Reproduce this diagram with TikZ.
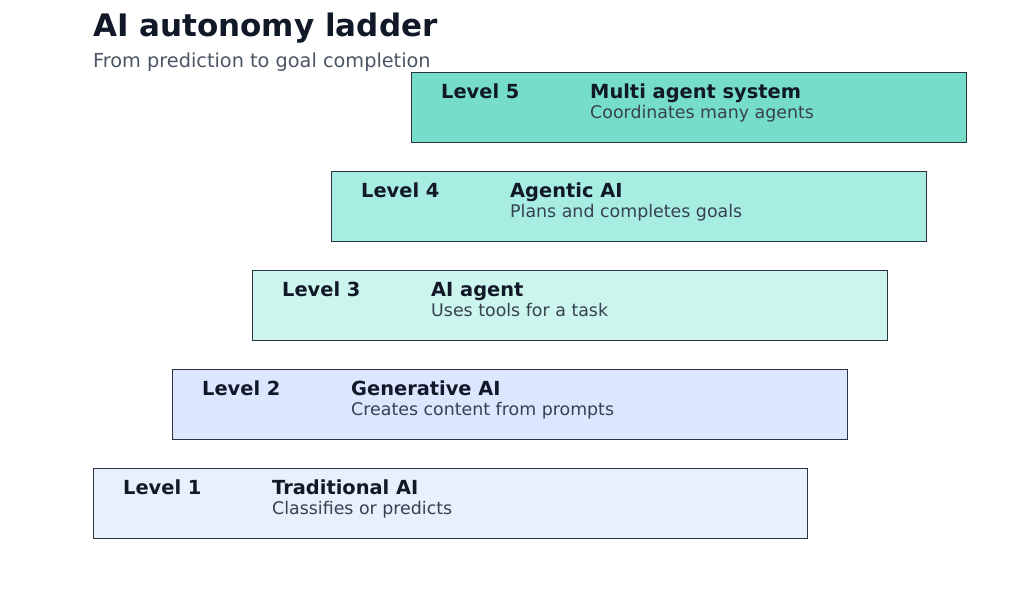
\documentclass[tikz,border=0pt]{standalone}
\usepackage{fontspec}
\setmainfont{DejaVu Sans}
\usepackage{tikz}
\usetikzlibrary{positioning}

\definecolor{ink}{HTML}{111827}
\definecolor{subink}{HTML}{4B5563}
\definecolor{descink}{HTML}{374151}
\definecolor{edge}{HTML}{2B3440}
\definecolor{fillA}{HTML}{E8EFFD}
\definecolor{fillB}{HTML}{DCE6FE}
\definecolor{fillC}{HTML}{CCF5ED}
\definecolor{fillD}{HTML}{A7EDE2}
\definecolor{fillE}{HTML}{76DDCA}

\begin{document}
\begin{tikzpicture}[
  x=1pt, y=-1pt,
  rung/.style={rectangle,draw=edge,line width=1pt,anchor=north west,minimum height=70pt,inner sep=0pt},
  lvl/.style={anchor=base west,inner sep=0pt,font=\fontsize{19.4}{22}\selectfont\bfseries,text=ink},
  kind/.style={anchor=base west,inner sep=0pt,font=\fontsize{19.4}{22}\selectfont\bfseries,text=ink},
  desc/.style={anchor=base west,inner sep=0pt,font=\fontsize{17.4}{20}\selectfont,text=descink}
]
  \useasboundingbox (0,0) rectangle (1020,610);

  \node[anchor=base west,inner sep=0pt,font=\fontsize{31}{36}\selectfont\bfseries,text=ink] (title) at (93,37) {AI autonomy ladder};
  \node[anchor=base west,inner sep=0pt,font=\fontsize{19.3}{23}\selectfont,text=subink] (subtitle) at (93,67) {From prediction to goal completion};

  % rungs, bottom to top
  \node[rung,fill=fillA,minimum width=714pt] (r1) at (93,468) {};
  \node[rung,fill=fillB,minimum width=675pt] (r2) at (172,369) {};
  \node[rung,fill=fillC,minimum width=635pt] (r3) at (252,270) {};
  \node[rung,fill=fillD,minimum width=595pt] (r4) at (331,171) {};
  \node[rung,fill=fillE,minimum width=555pt] (r5) at (411,72) {};

  \node[lvl] (l1) at ([xshift=30pt,yshift=-26pt]r1.north west) {Level 1};
  \node[kind] (k1) at ([xshift=179pt,yshift=-26pt]r1.north west) {Traditional AI};
  \node[desc] (d1) at ([xshift=179pt,yshift=-46pt]r1.north west) {Classifies or predicts};

  \node[lvl] (l2) at ([xshift=30pt,yshift=-26pt]r2.north west) {Level 2};
  \node[kind] (k2) at ([xshift=179pt,yshift=-26pt]r2.north west) {Generative AI};
  \node[desc] (d2) at ([xshift=179pt,yshift=-46pt]r2.north west) {Creates content from prompts};

  \node[lvl] (l3) at ([xshift=30pt,yshift=-26pt]r3.north west) {Level 3};
  \node[kind] (k3) at ([xshift=179pt,yshift=-26pt]r3.north west) {AI agent};
  \node[desc] (d3) at ([xshift=179pt,yshift=-46pt]r3.north west) {Uses tools for a task};

  \node[lvl] (l4) at ([xshift=30pt,yshift=-26pt]r4.north west) {Level 4};
  \node[kind] (k4) at ([xshift=179pt,yshift=-26pt]r4.north west) {Agentic AI};
  \node[desc] (d4) at ([xshift=179pt,yshift=-46pt]r4.north west) {Plans and completes goals};

  \node[lvl] (l5) at ([xshift=30pt,yshift=-26pt]r5.north west) {Level 5};
  \node[kind] (k5) at ([xshift=179pt,yshift=-26pt]r5.north west) {Multi agent system};
  \node[desc] (d5) at ([xshift=179pt,yshift=-46pt]r5.north west) {Coordinates many agents};
\end{tikzpicture}
\end{document}
